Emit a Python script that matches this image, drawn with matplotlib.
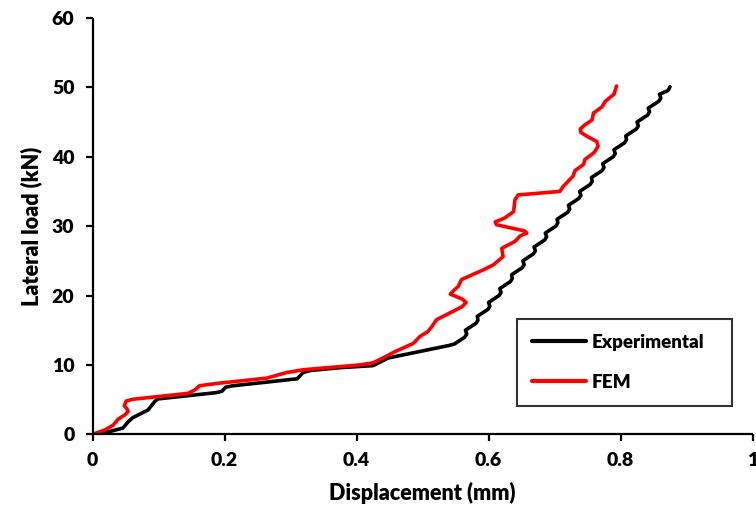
import matplotlib.pyplot as plt

plt.rcParams['font.family'] = ['Lato', 'DejaVu Sans']
plt.rcParams['font.weight'] = 'heavy'

# Experimental curve (displacement mm, load kN)
exp_disp = [0.0, 0.028, 0.046, 0.054, 0.061, 0.084, 0.095, 0.099, 0.187, 0.196,
            0.202, 0.213, 0.31, 0.319, 0.33, 0.375, 0.425, 0.448, 0.54,
            0.548, 0.564, 0.567, 0.565, 0.581, 0.584, 0.583, 0.599, 0.602,
            0.600, 0.616, 0.619, 0.617, 0.633, 0.636, 0.635, 0.651, 0.654,
            0.652, 0.668, 0.671, 0.669, 0.685, 0.688, 0.686, 0.702, 0.705,
            0.704, 0.720, 0.723, 0.721, 0.737, 0.740, 0.738, 0.754, 0.757,
            0.756, 0.772, 0.775, 0.773, 0.789, 0.792, 0.790, 0.806, 0.809,
            0.808, 0.824, 0.827, 0.825, 0.841, 0.844, 0.842, 0.858, 0.861,
            0.859, 0.871, 0.873, 0.875]
exp_load = [0.0, 0.45, 0.9, 1.8, 2.4, 3.5, 4.8, 5.1, 6.0, 6.2,
            6.8, 7.0, 8.0, 8.9, 9.2, 9.6, 9.9, 11.0, 12.8,
            13.0, 14.0, 14.45, 15.0, 16.0, 16.45, 17.0, 18.0, 18.45,
            19.0, 20.0, 20.45, 21.0, 22.0, 22.45, 23.0, 24.0, 24.45,
            25.0, 26.0, 26.45, 27.0, 28.0, 28.45, 29.0, 30.0, 30.45,
            31.0, 32.0, 32.45, 33.0, 34.0, 34.45, 35.0, 36.0, 36.45,
            37.0, 38.0, 38.45, 39.0, 40.0, 40.45, 41.0, 42.0, 42.45,
            43.0, 44.0, 44.45, 45.0, 46.0, 46.45, 47.0, 48.0, 48.45,
            49.0, 49.5, 49.7, 50.1]

# FEM curve
fem_disp = [0.0, 0.018, 0.031, 0.039, 0.049, 0.054, 0.052, 0.048, 0.051, 0.061,
            0.145, 0.155, 0.162, 0.19, 0.264, 0.294, 0.319, 0.405, 0.425, 0.44,
            0.458, 0.486, 0.496, 0.508, 0.514, 0.521, 0.560, 0.566, 0.560, 0.542,
            0.548, 0.554, 0.559, 0.592, 0.607, 0.622, 0.620, 0.640, 0.648, 0.658,
            0.655, 0.612, 0.610, 0.625, 0.638, 0.640, 0.645, 0.708, 0.713, 0.728,
            0.731, 0.744, 0.746, 0.760, 0.766, 0.764, 0.750, 0.740, 0.739, 0.746,
            0.757, 0.759, 0.772, 0.777, 0.790, 0.794]
fem_load = [0.0, 0.6, 1.3, 2.2, 2.8, 3.3, 3.7, 4.1, 4.8, 5.05,
            5.9, 6.4, 7.0, 7.35, 8.1, 8.9, 9.3, 10.0, 10.3, 11.0,
            11.9, 13.1, 14.1, 14.8, 15.5, 16.5, 18.4, 19.0, 19.5, 20.2,
            20.8, 21.3, 22.3, 23.7, 24.4, 25.6, 26.8, 27.8, 28.6, 29.0,
            29.3, 30.2, 30.6, 31.2, 32.1, 33.8, 34.5, 35.0, 35.7, 37.2,
            38.0, 38.9, 39.6, 40.6, 41.5, 42.2, 42.9, 43.5, 44.0, 44.6,
            45.3, 46.3, 47.2, 48.0, 49.0, 50.2]

xticks = [0, 0.2, 0.4, 0.6, 0.8, 1]
xticklabels = ['0', '0.2', '0.4', '0.6', '0.8', '1']
yticks = [0, 10, 20, 30, 40, 50, 60]

fig = plt.figure(figsize=(7.56, 5.13), dpi=100)
ax = fig.add_axes([0.1224, 0.1534, 0.873, 0.8116])

ax.plot(exp_disp, exp_load, color='black', lw=2.6, solid_joinstyle='round',
        solid_capstyle='round', label='Experimental')
ax.plot(fem_disp, fem_load, color='#ff0000', lw=2.6, solid_joinstyle='round',
        solid_capstyle='round', label='FEM')

ax.set_xlim(0, 1)
ax.set_ylim(0, 60)
ax.set_xticks(xticks)
ax.set_xticklabels(xticklabels)
ax.set_yticks(yticks)

for side in ['top', 'right']:
    ax.spines[side].set_visible(False)
for side in ['left', 'bottom']:
    ax.spines[side].set_linewidth(1.6)
    ax.spines[side].set_capstyle('butt')

ax.tick_params(direction='out', length=5, width=1.6, labelsize=14, pad=8)
for lab in ax.get_xticklabels() + ax.get_yticklabels():
    lab.set_fontweight('heavy')

ax.set_xlabel('Displacement (mm)', fontsize=15.5, fontweight='heavy', labelpad=9)
ax.set_ylabel('Lateral load (kN)', fontsize=15.5, fontweight='heavy', labelpad=7)

leg = ax.legend(loc='lower left', bbox_to_anchor=(0.643, 0.068, 0.326, 0.207),
                mode='expand', fancybox=False, frameon=True, edgecolor='black',
                fontsize=13.5, handlelength=2.9, handletextpad=0.3,
                labelspacing=1.25, borderpad=0.8, borderaxespad=0)
leg.get_frame().set_linewidth(1.5)
for t in leg.get_texts():
    t.set_fontweight('heavy')
for line in leg.get_lines():
    line.set_linewidth(3)

fig.savefig('out.png', dpi=100)
